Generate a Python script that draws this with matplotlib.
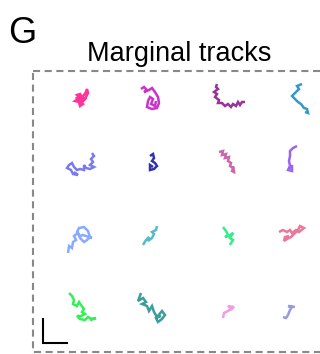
import matplotlib
matplotlib.use("Agg")
import matplotlib.pyplot as plt
from matplotlib.patches import Rectangle

plt.rcParams['font.family'] = ['Liberation Sans', 'DejaVu Sans']

# Track displacements (um) relative to the centre of each grid cell, y pointing down.
# Order: row by row, left to right.
track_dx = [
    [-6, -3, -5, -2, 0, 2, 4, 5, 6, 4, 2, -1, 1, -2, -3, -7, -4, -1, 1, 3, -2, -5, -1],
    [-11, -8, -5, -8, -3, 0, 3, 6, 7, 5, 0, -5, -4, -2, 1, -1, 3, 4],
    [-5, -6, -4, -8, -5, -7, -3, -4, 0, 3, 6, 9, 11, 14, 16, 18, 20, 23],
    [10, 5, 7, 4, 0, 3, 6, 9, 12, 15, 16, 13],
    [10, 12, 9, 11, 8, 12, 8, 4, 2, 2, -2, -5, -8, -10, -13, -15, -11, -9, -4, -8],
    [-2, 1, 2, 0, 3, 5, 2, -2, -2, 1],
    [-3, 1, 0, 4, 3, 7, 6, 9, 8, 11, 10, 12, 11],
    [5, 1, -2, -2, -3, -2, -4, 0, 0, -1],
    [-14, -13, -10, -9, -6, -8, -4, -2, 2, 5, 8, 6, 2, -3, -5, -2, 1, 4, 10, 6],
    [-9, -6, -3, -4, 0, 2, 0, 4, 5],
    [1, 4, 6, 3, 7, 11, 8, 11, 9, 8],
    [-13, -9, -5, -2, 0, 4, 7, 12, 8, 6, 2, -1, -5, -8, -7, -3],
    [-13, -10, -8, -9, -5, -3, -1, 2, 0, 3, -1, -5, -2, 3, 6, 10, 14, 8],
    [-11, -14, -9, -6, -10, -5, -3, 0, 2, 5, 10, 13, 10, 6, 4, 9],
    [1, 2, 6, 9, 6, 12, 8],
    [-9, -6, -4, -2, 0, -4, 3],
]
track_dy = [
    [4, 2, 0, -1, 2, 0, -3, -6, -2, 2, 5, 7, 9, 11, 7, 6, 4, 4, 6, 4, 1, 3, 8],
    [-6, -8, -5, -3, -5, -7, -3, 2, 8, 13, 14, 12, 6, 2, 4, 9, 11, 6],
    [-11, -8, -6, -3, -1, 2, 5, 8, 8, 11, 9, 12, 9, 11, 7, 10, 7, 7],
    [-11, -9, -6, -3, 1, 4, 7, 9, 13, 14, 18, 17],
    [-12, -9, -6, -3, 0, 2, 4, 3, 0, 5, 4, 5, 2, -2, 0, 3, 5, 9, 10, 7],
    [-9, -11, -7, -4, -2, 1, 4, 5, 0, 2],
    [-13, -14, -10, -11, -7, -8, -4, -2, 1, 3, 6, 7, 1],
    [-19, -17, -14, -9, -4, 1, 5, 6, 0, 4],
    [18, 11, 13, 7, 5, 1, -2, 3, 7, 5, 2, -4, -8, -7, -3, 1, 0, 1, 3, 2],
    [10, 5, 2, 6, 3, -1, -3, -5, -9],
    [-8, -4, 0, 2, 1, -2, 3, 5, 8, 10],
    [-3, -5, -3, -5, -2, -5, -3, -7, -9, -5, -1, 2, 4, 6, 2, 1],
    [-12, -9, -5, -1, 1, -3, 0, 4, 7, 9, 11, 11, 14, 15, 12, 14, 13, 15],
    [-12, -4, -7, -3, -1, 1, 6, 1, 7, 12, 6, 10, 14, 17, 13, 11],
    [13, 8, 6, 4, 1, 2, 5],
    [12, 13, 10, 5, 2, 1, 2],
]
track_colors = [
    "#FF3399", "#CC33CC", "#993399", "#3399CC",
    "#7B7BF0", "#3333AA", "#CC66AA", "#9966EE",
    "#88AAFF", "#55BBCC", "#33EE88", "#EE7799",
    "#33F055", "#3A9E9A", "#F59BE0", "#9999DD",
]
scale_bar_um = 25
panel_letter = "G"
title = "Marginal tracks"

fig = plt.figure(figsize=(3.2, 3.54), dpi=100)
ax = fig.add_axes([0, 0, 1, 1])
ax.set_xlim(0, 320)
ax.set_ylim(354, 0)
ax.axis("off")

# grid layout of the tracks
n_cols = 4
x0, y0, spacing = 82, 95, 70
for i, (dx, dy, c) in enumerate(zip(track_dx, track_dy, track_colors)):
    r, col = divmod(i, n_cols)
    cx = x0 + col * spacing
    cy = y0 + r * spacing
    ax.plot([cx + v for v in dx], [cy + v for v in dy], color=c, lw=1.8,
            solid_joinstyle="miter", solid_capstyle="butt")

# dashed frame
ax.add_patch(Rectangle((32.5, 70.5), 300, 281.5, fill=False,
                       edgecolor="#888888", lw=1.5, ls=(0, (3.4, 2.2))))

# scale bar
sx, sy = 43, 343
ax.plot([sx, sx, sx + scale_bar_um], [sy - scale_bar_um, sy, sy],
        color="black", lw=1.5, solid_capstyle="butt", solid_joinstyle="miter")

ax.text(8, 43, panel_letter, fontsize=26, ha="left", va="baseline")
ax.text(179.5, 61, title, fontsize=19.5, ha="center", va="baseline")

fig.savefig("out.png", dpi=100)
